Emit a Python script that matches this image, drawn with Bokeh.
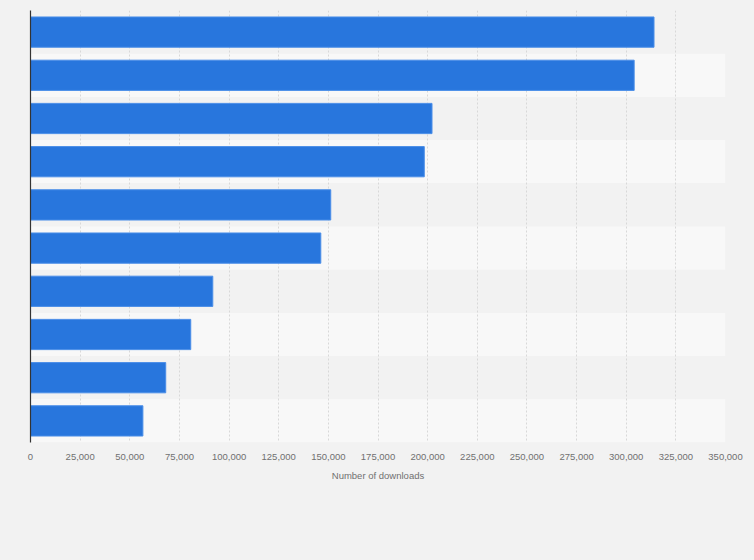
from bokeh.plotting import figure
from bokeh.models import Range1d, FixedTicker, NumeralTickFormatter, ColumnDataSource
from bokeh.embed import file_html
from bokeh.resources import INLINE

# Data (top to bottom)
ranks = [1, 2, 3, 4, 5, 6, 7, 8, 9, 10]
downloads = [314000, 304000, 202200, 198300, 151200, 146200, 91800, 80700, 68100, 56600]
x_ticks = [0, 25000, 50000, 75000, 100000, 125000, 150000, 175000, 200000,
           225000, 250000, 275000, 300000, 325000, 350000]
x_max = 350000
axis_title = "Number of downloads"

BG = "#f2f2f2"
BAND = "#f8f8f8"
BAR = "#2876dd"
FONT = "Liberation Sans"

p = figure(width=754, height=560, output_backend="svg", toolbar_location=None,
           x_range=Range1d(0, x_max), y_range=Range1d(len(ranks) + 0.5, 0.5),
           min_border_left=30, min_border_right=29, min_border_top=10, min_border_bottom=118)
p.background_fill_color = BG
p.border_fill_color = BG
p.outline_line_color = None

# alternating row stripes
band_src = ColumnDataSource(dict(
    y=ranks,
    right=[x_max] * len(ranks),
    color=[BG if r % 2 == 1 else BAND for r in ranks],
))
p.hbar(y="y", left=0, right="right", height=1, fill_color="color", line_color=None,
       source=band_src, level="underlay")

bar_src = ColumnDataSource(dict(y=ranks, right=downloads))
p.hbar(y="y", left=0, right="right", height=0.7, fill_color=BAR,
       line_color="#4a8ee8", line_width=1, source=bar_src)

# x axis
xa = p.xaxis[0]
xa.ticker = FixedTicker(ticks=x_ticks)
xa.formatter = NumeralTickFormatter(format="0,0")
xa.axis_line_color = None
xa.major_tick_line_color = None
xa.minor_tick_line_color = None
xa.major_tick_in = 0
xa.major_tick_out = 0
xa.major_label_standoff = 11
xa.major_label_text_font = FONT
xa.major_label_text_font_size = "9.5px"
xa.major_label_text_color = "#707070"
xa.axis_label = axis_title
xa.axis_label_text_font = FONT
xa.axis_label_text_font_size = "9.5px"
xa.axis_label_text_font_style = "normal"
xa.axis_label_text_color = "#707070"
xa.axis_label_standoff = 7

# y axis: just the line
ya = p.yaxis[0]
ya.axis_line_color = "#333333"
ya.axis_line_width = 1.2
ya.major_tick_line_color = None
ya.minor_tick_line_color = None
ya.major_label_text_font_size = "0px"
ya.ticker = FixedTicker(ticks=[])

p.xgrid.ticker = FixedTicker(ticks=x_ticks)
p.xgrid.grid_line_color = "#d8d8d8"
p.xgrid.grid_line_dash = "2 2"
p.xgrid.grid_line_width = 1
p.ygrid.grid_line_color = None

html = file_html(p, INLINE)
html = html.replace("<head>", "<head><style>html,body{background:%s;margin:0;padding:0;overflow:hidden;}</style>" % BG, 1)
open("out.html", "w").write(html)
